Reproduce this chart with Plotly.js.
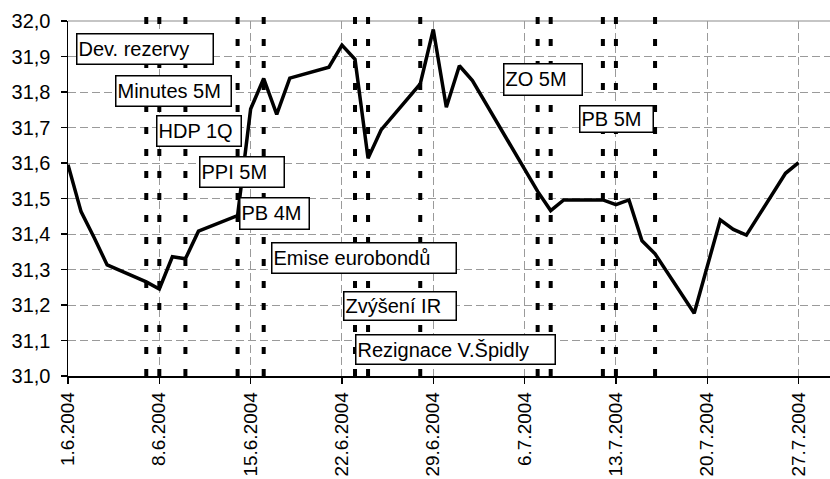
<!DOCTYPE html>
<html>
<head>
<meta charset="utf-8">
<script src="https://cdn.plot.ly/plotly-3.0.1.min.js"></script>
<style>
  html, body { margin: 0; padding: 0; background: #ffffff; }
  #chart { width: 830px; height: 479px; }
</style>
</head>
<body>
<div id="chart"></div>
<script>
// Kurz CZK/EUR, červen - červenec 2004
const dates = [
  '2004-06-01', '2004-06-02', '2004-06-03', '2004-06-04', '2004-06-07',
  '2004-06-08', '2004-06-09', '2004-06-10', '2004-06-11', '2004-06-14',
  '2004-06-15', '2004-06-16', '2004-06-17', '2004-06-18', '2004-06-21',
  '2004-06-22', '2004-06-23', '2004-06-24', '2004-06-25', '2004-06-28',
  '2004-06-29', '2004-06-30', '2004-07-01', '2004-07-02', '2004-07-07',
  '2004-07-08', '2004-07-09', '2004-07-12', '2004-07-13', '2004-07-14',
  '2004-07-15', '2004-07-16', '2004-07-19', '2004-07-21', '2004-07-22',
  '2004-07-23', '2004-07-26', '2004-07-27'
];
const rates = [
  31.595, 31.463, 31.390, 31.313, 31.265,
  31.245, 31.336, 31.330, 31.408, 31.452,
  31.752, 31.838, 31.737, 31.839, 31.870,
  31.932, 31.892, 31.613, 31.693, 31.823,
  31.976, 31.757, 31.874, 31.832, 31.520,
  31.466, 31.496, 31.496, 31.483, 31.496,
  31.381, 31.344, 31.177, 31.440, 31.413,
  31.397, 31.571, 31.601
];

// Dny s událostmi (svislé tečkované čáry)
const eventDates = [
  '2004-06-07', '2004-06-08', '2004-06-10', '2004-06-14', '2004-06-16',
  '2004-06-23', '2004-06-24', '2004-06-28', '2004-07-07', '2004-07-08',
  '2004-07-12', '2004-07-13', '2004-07-16'
];

// Popisky událostí
const eventLabels = [
  'Dev. rezervy', 'Minutes 5M', 'HDP 1Q', 'PPI 5M', 'PB 4M',
  'Emise eurobondů', 'Zvýšení IR', 'Rezignace V.Špidly', 'ZO 5M', 'PB 5M'
];

// Rozmístění rámečků s popisky (levý horní roh a rozměr v pixelech)
const boxes = [
  [75.7, 33.3, 137.6, 32.4],
  [115.0, 75.0, 116.7, 32.3],
  [155.7, 115.0, 86.0, 31.7],
  [199.3, 156.0, 85.7, 32.3],
  [239.3, 197.3, 70.7, 32.7],
  [270.7, 242.3, 186.0, 31.7],
  [342.7, 291.0, 114.0, 29.7],
  [355.0, 334.0, 201.0, 31.0],
  [502.7, 63.3, 79.6, 32.7],
  [579.3, 105.0, 75.0, 28.3]
];

const W = 830, H = 479;
const M = { l: 68, r: 0, t: 21, b: 103 };
const plotW = W - M.l - M.r;
const plotH = H - M.t - M.b;

const FONT = 'Arial, "Liberation Sans", sans-serif';

const shapes = [];
// tečkované čáry událostí
eventDates.forEach(d => {
  shapes.push({
    type: 'line', xref: 'x', yref: 'paper',
    x0: d, x1: d, y0: 0, y1: 1.013,
    line: { color: '#000000', width: 4, dash: '7px,15px' },
    layer: 'above'
  });
});
// horní okraj grafu
shapes.push({
  type: 'line', xref: 'paper', yref: 'paper',
  x0: 0, x1: 1, y0: 1, y1: 1,
  line: { color: '#8c8c8c', width: 1.2 },
  layer: 'below'
});

const annotations = eventLabels.map((t, i) => {
  const b = boxes[i];
  const bw = 1.5, pad = 1;
  return {
    text: t,
    xref: 'paper', yref: 'paper',
    x: (b[0] - M.l) / plotW,
    y: (M.t + plotH - b[1]) / plotH,
    xanchor: 'left', yanchor: 'top',
    showarrow: false,
    width: b[2] - 2 * (bw + pad),
    height: b[3] - 2 * (bw + pad),
    align: 'left',
    valign: 'middle',
    bgcolor: '#ffffff',
    bordercolor: '#000000',
    borderwidth: bw,
    borderpad: pad,
    font: { family: FONT, size: 20, color: '#000000' }
  };
});

const trace = {
  type: 'scatter',
  mode: 'lines',
  x: dates,
  y: rates,
  line: { color: '#000000', width: 3.5 },
  hoverinfo: 'x+y'
};

const layout = {
  width: W, height: H,
  margin: M,
  paper_bgcolor: '#ffffff',
  plot_bgcolor: '#ffffff',
  showlegend: false,
  separators: ', ',
  font: { family: FONT, size: 20, color: '#000000' },
  xaxis: {
    type: 'date',
    range: ['2004-06-01', '2004-07-29 09:50'],
    tick0: '2004-06-01',
    dtick: 7 * 86400000,
    tickformat: '%-d.%-m.%Y',
    tickangle: -90,
    ticks: 'outside', ticklen: 6, tickwidth: 1.2, tickcolor: '#000000',
    ticklabelstandoff: 1,
    showline: true, linecolor: '#000000', linewidth: 1.5,
    showgrid: true, gridcolor: '#9a9a9a', gridwidth: 1, griddash: '8px,4px',
    zeroline: false,
    tickfont: { family: FONT, size: 19, color: '#000000' }
  },
  yaxis: {
    range: [31.0, 32.0],
    tick0: 31.0, dtick: 0.1,
    tickformat: '.1f',
    ticks: 'outside', ticklen: 6, tickwidth: 1.2, tickcolor: '#000000',
    ticklabelstandoff: 6,
    showline: true, linecolor: '#000000', linewidth: 1.5,
    showgrid: true, gridcolor: '#9a9a9a', gridwidth: 1, griddash: '8px,4px',
    zeroline: false,
    tickfont: { family: FONT, size: 20, color: '#000000' }
  },
  shapes: shapes,
  annotations: annotations
};

Plotly.newPlot('chart', [trace], layout, { staticPlot: true, displayModeBar: false });
</script>
</body>
</html>
